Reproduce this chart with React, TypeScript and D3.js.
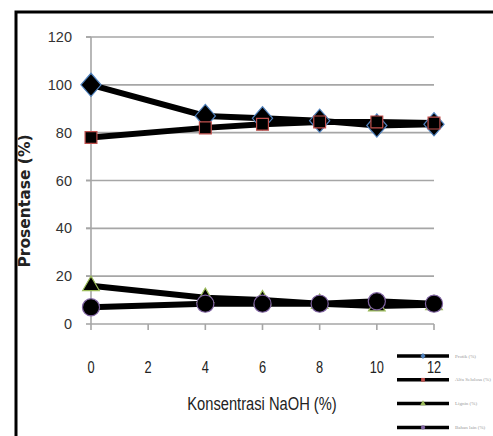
import React from "react";
import * as d3 from "d3";

const width = 493;
const height = 436;
const margin = { top: 37, right: 59, bottom: 112, left: 91 };

// data
const naoh = [0, 4, 6, 8, 10, 12];
const protik = [100, 87, 86, 85, 83, 83.5];
const alfaSelulosa = [78, 82, 83.5, 84.5, 84.5, 84];
const lignin = [16, 11, 10, 8.5, 7.5, 8];
const bahanLain = [7, 8.5, 8.5, 8.5, 9.5, 8.5];
const xTicks = [0, 2, 4, 6, 8, 10, 12];
const yTicks = [0, 20, 40, 60, 80, 100, 120];
const seriesNames = ["Protik (%)", "Alfa Selulosa (%)", "Lignin (%)", "Bahan lain (%)"];

// excel-like diamond, a bit taller than wide
const excelDiamond = {
  draw(context: any, size: number) {
    const w = Math.sqrt(size) * 0.68;
    const h = w * 1.15;
    context.moveTo(0, -h);
    context.lineTo(w, 0);
    context.lineTo(0, h);
    context.lineTo(-w, 0);
    context.closePath();
  },
};

const series = [
  { name: seriesNames[0], values: protik, color: "#4f81bd", shape: excelDiamond, size: 220 },
  { name: seriesNames[1], values: alfaSelulosa, color: "#c0504d", shape: d3.symbolSquare, size: 140 },
  { name: seriesNames[2], values: lignin, color: "#9bbb59", shape: d3.symbolTriangle, size: 120 },
  { name: seriesNames[3], values: bahanLain, color: "#8064a2", shape: d3.symbolCircle, size: 230 },
];

const condensed = "'Liberation Sans', 'Arial', sans-serif";

const App = () => {
  const xScale = d3
    .scaleLinear()
    .domain([0, 12])
    .range([margin.left, width - margin.right]);
  const yScale = d3
    .scaleLinear()
    .domain([0, 120])
    .range([height - margin.bottom, margin.top]);

  const line = d3
    .line<number>()
    .x((d, i) => xScale(naoh[i]))
    .y((d) => yScale(d));

  const y0 = yScale(0);

  return (
    <svg
      width={width}
      height={height}
      style={{ position: "absolute", left: 0, top: 0, background: "#fff" }}
    >
      {/* outer frame, runs off the right and bottom */}
      <rect x={16} y={12} width={600} height={600} fill="none" stroke="#000" strokeWidth={3} />

      {/* gridlines + y ticks */}
      {yTicks.map((t) => (
        <g key={t}>
          {t > 0 && (
            <line x1={xScale(0) - 5} x2={xScale(12)} y1={yScale(t)} y2={yScale(t)} stroke="#a6a6a6" strokeWidth={1.6} />
          )}
          <line x1={xScale(0) - 5} x2={xScale(0)} y1={yScale(t)} y2={yScale(t)} stroke="#a6a6a6" strokeWidth={1.6} />
          <text
            x={72}
            y={yScale(t)}
            textAnchor="end"
            dominantBaseline="central"
            fontFamily="'Liberation Sans', sans-serif"
            fontSize={14.5}
            fill="#333"
          >
            {t}
          </text>
        </g>
      ))}

      {/* axes */}
      <line x1={xScale(0)} x2={xScale(0)} y1={yScale(120)} y2={y0} stroke="#a6a6a6" strokeWidth={1.6} />
      <line x1={xScale(0)} x2={xScale(12)} y1={y0} y2={y0} stroke="#a6a6a6" strokeWidth={1.6} />
      {xTicks.map((t) => (
        <g key={t}>
          <line x1={xScale(t)} x2={xScale(t)} y1={y0} y2={y0 + 6} stroke="#a6a6a6" strokeWidth={1.6} />
          <text
            transform={`translate(${xScale(t)},367) scale(0.8,1)`}
            textAnchor="middle"
            dominantBaseline="central"
            fontFamily={condensed}
            fontSize={16}
            fill="#222"
          >
            {t}
          </text>
        </g>
      ))}

      {/* lines */}
      {series.map((s) => (
        <path key={s.name} d={line(s.values) || ""} fill="none" stroke="#000" strokeWidth={6} />
      ))}

      {/* markers */}
      {series.map((s) =>
        s.values.map((v, i) => (
          <path
            key={s.name + i}
            d={d3.symbol(s.shape, s.size)() || ""}
            transform={`translate(${xScale(naoh[i])},${yScale(v)})`}
            fill="#000"
            stroke={s.color}
            strokeWidth={1.2}
          />
        ))
      )}

      {/* axis titles */}
      <text
        transform="translate(262,404) scale(0.84,1)"
        textAnchor="middle"
        dominantBaseline="central"
        fontFamily={condensed}
        fontSize={17.5}
        fill="#222"
      >
        Konsentrasi NaOH (%)
      </text>
      <text
        transform="translate(25,201) rotate(-90)"
        textAnchor="middle"
        dominantBaseline="central"
        fontFamily="'DejaVu Sans', sans-serif"
        fontWeight="bold"
        fontSize={15.5}
        fill="#222"
      >
        Prosentase (%)
      </text>

      {/* legend */}
      {series.map((s, i) => {
        const ly = 356 + i * 23.8;
        return (
          <g key={s.name}>
            <line x1={397} x2={449} y1={ly} y2={ly} stroke="#000" strokeWidth={3.5} />
            <path
              d={d3.symbol(s.shape, 14)() || ""}
              transform={`translate(423,${ly})`}
              fill={s.color}
            />
            <text
              x={455}
              y={ly}
              dominantBaseline="central"
              fontFamily="'Liberation Serif', serif"
              fontSize={5}
              fill="#999"
            >
              {s.name}
            </text>
          </g>
        );
      })}
    </svg>
  );
};

export default App;
